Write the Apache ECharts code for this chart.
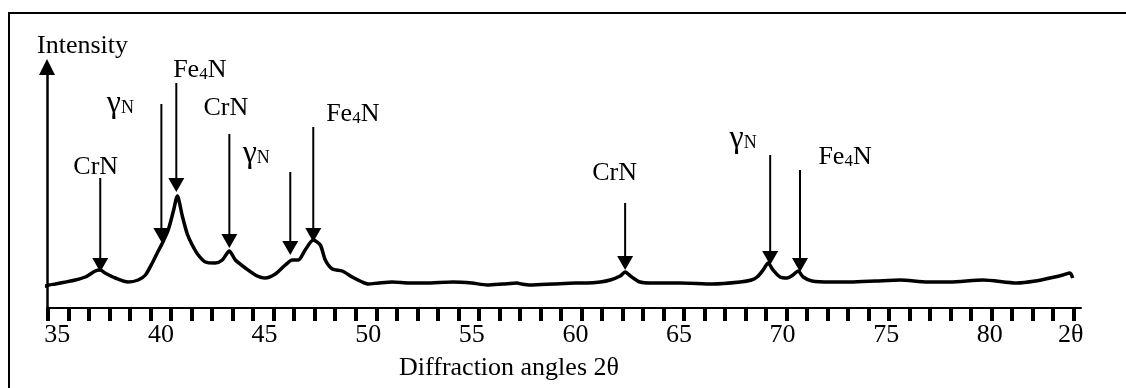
<!DOCTYPE html>
<html><head><meta charset="utf-8">
<script src="https://cdn.jsdelivr.net/npm/echarts@6/dist/echarts.min.js"></script>
<style>html,body{margin:0;padding:0;background:#fff}#c{width:1126px;height:388px}</style>
</head><body><div id="c"></div>
<script>
// ---- data ----
const angles = [34.28,34.6,34.9,35.4,35.87,36.35,36.83,37.07,37.3,37.8,38.42,38.9,39.25,39.58,39.82,40.07,40.35,40.6,40.79,41.03,41.27,41.51,41.8,42.14,42.62,42.96,43.3,43.59,44.07,44.55,45.03,45.52,46.0,46.34,46.63,46.96,47.35,47.69,47.93,48.27,48.75,49.23,49.71,50.0,50.5,51.16,52.0,52.75,54.1,55.0,55.74,56.5,57.19,57.4,57.82,58.93,60.0,60.57,61.2,61.68,62.16,62.4,62.6,62.79,63.12,63.6,65.05,66.64,67.95,68.5,68.77,69.06,69.3,69.54,69.88,70.22,70.5,70.75,70.99,71.42,72.29,73.25,74.5,75.67,77.0,78.08,79.67,81.31,82.2,82.9,83.53,83.87,84.0];
const intensity = [21,23,24,26,28,31,37,38,35,30,26,28,33,45,55,65,78,97,112,92,74,63,53,46,45,48,57,48,40,33,30,34,43,48,48,58,68,63,48,39,37,31,26,24,25,26,25,25,26,25,23,24,25,24,23,24,25,25,26,28,32,36,33,30,26,25,25,24,26,28,31,38,45,38,31,30,33,37,31,27,26,26,27,28,26,26,28,25,27,30,33,35,30];

const peakLabels = ['CrN','γN','Fe4N','CrN','γN','Fe4N','CrN','γN','Fe4N'];
const peakAngles = [37.07,40.02,40.74,43.3,46.24,47.35,62.4,69.4,70.84];
const arrowTop   = [130,204,225,174,136,181,105,153,138];
const arrowTip   = [36,66,116,60,53,66,38,43,36];

const xLabelValues = [35,40,45,50,55,60,65,70,75,80];
const xEndLabelValue = 83.9;
const xEndLabel = '2θ';
const xAxisName = 'Diffraction angles 2θ';
const yAxisName = 'Intensity';

// ---- layout / style ----
const FONT = '"Liberation Serif","Times New Roman",serif';
const labelOffsets = [[-4.5,-11],[-41,0],[23.5,-12.5],[-3.5,-25.5],[-34,-18],[39.5,-12.5],[-10.5,-30],[-27,-16],[45,-12.5]];
const richMarkup = {'CrN':'CrN','γN':'{g|γ}{n|N}','Fe4N':'Fe{s|4}N'};
const rulerTicks = [];
for (let t = 34.55; t < 84.35; t += 0.99) rulerTicks.push(+t.toFixed(2));

const chart = echarts.init(document.getElementById('c'), null, {renderer:'canvas'});
chart.setOption({
  animation: false,
  backgroundColor: '#fff',
  textStyle: {fontFamily: FONT, color: '#000'},
  grid: {left: 47, right: 45, top: 67, bottom: 80, outerBoundsMode: 'none', containLabel: false},
  graphic: [{type:'rect', shape:{x:9, y:13, width:1300, height:600}, style:{fill:'none', stroke:'#000', lineWidth:2}, z:0}],
  xAxis: {
    type: 'value', min: 34.5, max: 84.4,
    name: xAxisName, nameLocation: 'middle', nameGap: 47,
    nameTextStyle: {fontFamily: FONT, fontSize: 26, color:'#000', padding:[0,110,0,0]},
    axisLine: {show:true, lineStyle:{color:'#000', width:2}},
    axisTick: {show:true, inside:false, length:13, lineStyle:{color:'#000', width:4}, customValues: rulerTicks},
    axisLabel: {show:true, margin:14, fontFamily: FONT, fontSize:26, color:'#000',
      customValues: xLabelValues.concat([xEndLabelValue]),
      formatter: v => (Math.abs(v - xEndLabelValue) < 0.01 ? xEndLabel : String(v))},
    splitLine: {show:false}
  },
  yAxis: {
    type: 'value', min: 0, max: 241,
    name: yAxisName, nameLocation: 'end', nameGap: 21,
    nameTextStyle: {fontFamily: FONT, fontSize: 26, color:'#000', align:'center', verticalAlign:'middle', padding:[0,0,0,71]},
    axisLine: {show:true, symbol:['none','triangle'], symbolSize:[16,16], lineStyle:{color:'#000', width:2.5}},
    axisTick: {show:false}, axisLabel: {show:false}, splitLine: {show:false}
  },
  series: [
    {
      type: 'line', data: angles.map((a,i)=>[a, intensity[i]]),
      showSymbol: false, smooth: 0.25, clip: false,
      lineStyle: {color:'#000', width:3.5}, z: 3
    },
    {
      type: 'custom', clip: false, z: 4,
      data: peakAngles.map((a,i)=>[a, arrowTop[i], arrowTip[i]]),
      encode: {x: 0, y: 1},
      renderItem: function(params, api){
        const i = params.dataIndex;
        const top = api.coord([api.value(0), api.value(1)]);
        const tip = api.coord([api.value(0), api.value(2)]);
        const hl = 14, hw = 8;
        const off = labelOffsets[i];
        return {type:'group', children:[
          {type:'line', shape:{x1:top[0], y1:top[1], x2:tip[0], y2:tip[1]-hl+1}, style:{stroke:'#000', lineWidth:2}},
          {type:'polygon', shape:{points:[[tip[0]-hw, tip[1]-hl],[tip[0]+hw, tip[1]-hl],[tip[0], tip[1]]]}, style:{fill:'#000'}},
          {type:'text', x: top[0]+off[0], y: top[1]+off[1], style:{
            text: richMarkup[peakLabels[i]], fontFamily: FONT, fontSize: 26, fill:'#000',
            align:'center', verticalAlign:'middle', lineHeight: 26,
            rich: {
              s: {fontFamily: FONT, fontSize: 17, fill:'#000', verticalAlign:'bottom', lineHeight: 14},
              n: {fontFamily: FONT, fontSize: 18, fill:'#000', verticalAlign:'bottom', lineHeight: 6},
              g: {fontFamily: FONT, fontSize: 32, fill:'#000', lineHeight: 26}
            }
          }}
        ]};
      }
    }
  ]
});
</script></body></html>
